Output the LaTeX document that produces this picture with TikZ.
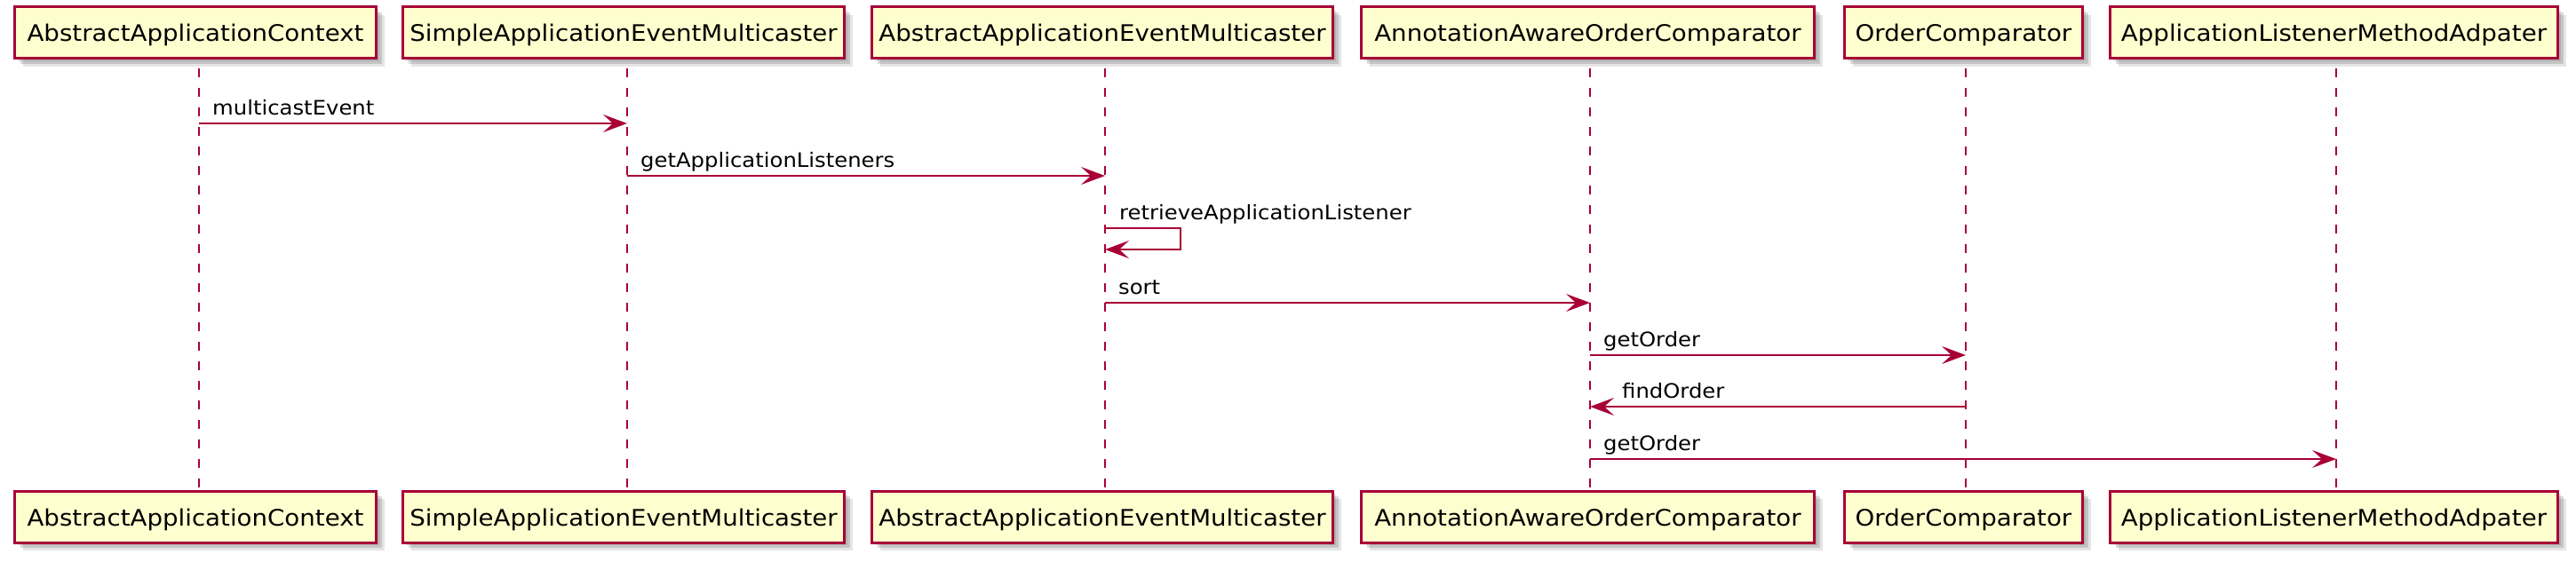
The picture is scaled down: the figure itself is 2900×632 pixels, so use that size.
\documentclass[tikz,border=0pt]{standalone}
\usepackage{fontspec}
\usetikzlibrary{arrows.meta,shadows,calc}
\newfontfamily\pfont[FakeStretch=1.08]{DejaVu Sans}
\definecolor{pbord}{HTML}{A80036}
\definecolor{pfill}{HTML}{FEFECE}
\tikzset{
  pshadow/.style={
    drop shadow={shadow xshift=3pt,shadow yshift=-3pt,fill=black,opacity=.10},
    drop shadow={shadow xshift=6pt,shadow yshift=-6pt,fill=black,opacity=.14},
    drop shadow={shadow xshift=9pt,shadow yshift=-9pt,fill=black,opacity=.10}},
  pbox/.style={draw=pbord,fill=pfill,line width=3pt,minimum height=58pt,inner sep=0pt,
    text height=26.4pt,text depth=6pt,font=\pfont\fontsize{25.6}{30}\selectfont,pshadow},
  lifeline/.style={draw=pbord,line width=1.7pt,dash pattern=on 10pt off 12pt},
  msg/.style={draw=pbord,line width=2pt,-{Stealth[length=27pt,width=20pt,inset=11pt,fill=pbord]}},
  selfmsg/.style={msg,line join=miter},
  lbl/.style={anchor=base west,inner sep=0pt,font=\pfont\fontsize{22.5}{27}\selectfont}
}
\begin{document}
\begin{tikzpicture}[x=1pt,y=-1pt]
\useasboundingbox (0,0) rectangle (2900,632);
% lifeline x positions
\coordinate (L1) at (224,0);
\coordinate (L2) at (706,0);
\coordinate (L3) at (1244,0);
\coordinate (L4) at (1790,0);
\coordinate (L5) at (2213,0);
\coordinate (L6) at (2630,0);
% message rows
\coordinate (r1) at (0,139);
\coordinate (r2) at (0,198);
\coordinate (r3a) at (0,257);
\coordinate (r3b) at (0,281);
\coordinate (r4) at (0,341);
\coordinate (r5) at (0,400);
\coordinate (r6) at (0,458);
\coordinate (r7) at (0,517);
\coordinate (sx) at (1329,0);
% top participants
\node[pbox,minimum width=407pt] (t1) at (220,36.5) {AbstractApplicationContext};
\node[pbox,minimum width=497pt] (t2) at (702,36.5) {SimpleApplicationEventMulticaster};
\node[pbox,minimum width=519pt] (t3) at (1241,36.5) {AbstractApplicationEventMulticaster};
\node[pbox,minimum width=510pt] (t4) at (1787.5,36.5) {AnnotationAwareOrderComparator};
\node[pbox,minimum width=268pt] (t5) at (2210.5,36.5) {OrderComparator};
\node[pbox,minimum width=504pt] (t6) at (2627.5,36.5) {ApplicationListenerMethodAdpater};
% bottom participants
\node[pbox,minimum width=407pt] (b1) at (220,582) {AbstractApplicationContext};
\node[pbox,minimum width=497pt] (b2) at (702,582) {SimpleApplicationEventMulticaster};
\node[pbox,minimum width=519pt] (b3) at (1241,582) {AbstractApplicationEventMulticaster};
\node[pbox,minimum width=510pt] (b4) at (1787.5,582) {AnnotationAwareOrderComparator};
\node[pbox,minimum width=268pt] (b5) at (2210.5,582) {OrderComparator};
\node[pbox,minimum width=504pt] (b6) at (2627.5,582) {ApplicationListenerMethodAdpater};
% lifelines
\foreach \i in {1,...,6}{
  \draw[lifeline] ($(L\i |- t\i.south)+(0,10)$) -- (L\i |- b\i.north);
}
% messages
\draw[msg] (L1 |- r1) -- (L2 |- r1);
\node[lbl] (m1) at ($(L1 |- r1)+(15,-9.5)$) {multicastEvent};
\draw[msg] (L2 |- r2) -- (L3 |- r2);
\node[lbl] (m2) at ($(L2 |- r2)+(15,-9.5)$) {getApplicationListeners};
\draw[selfmsg] (L3 |- r3a) -- (sx |- r3a) -- (sx |- r3b) -- (L3 |- r3b);
\node[lbl] (m3) at ($(L3 |- r3a)+(16,-10)$) {retrieveApplicationListener};
\draw[msg] (L3 |- r4) -- (L4 |- r4);
\node[lbl] (m4) at ($(L3 |- r4)+(15,-9.5)$) {sort};
\draw[msg] (L4 |- r5) -- (L5 |- r5);
\node[lbl] (m5) at ($(L4 |- r5)+(15,-9.5)$) {getOrder};
\draw[msg] (L5 |- r6) -- (L4 |- r6);
\node[lbl] (m6) at ($(L4 |- r6)+(36,-9.5)$) {findOrder};
\draw[msg] (L4 |- r7) -- (L6 |- r7);
\node[lbl] (m7) at ($(L4 |- r7)+(15,-9.5)$) {getOrder};
\end{tikzpicture}
\end{document}
